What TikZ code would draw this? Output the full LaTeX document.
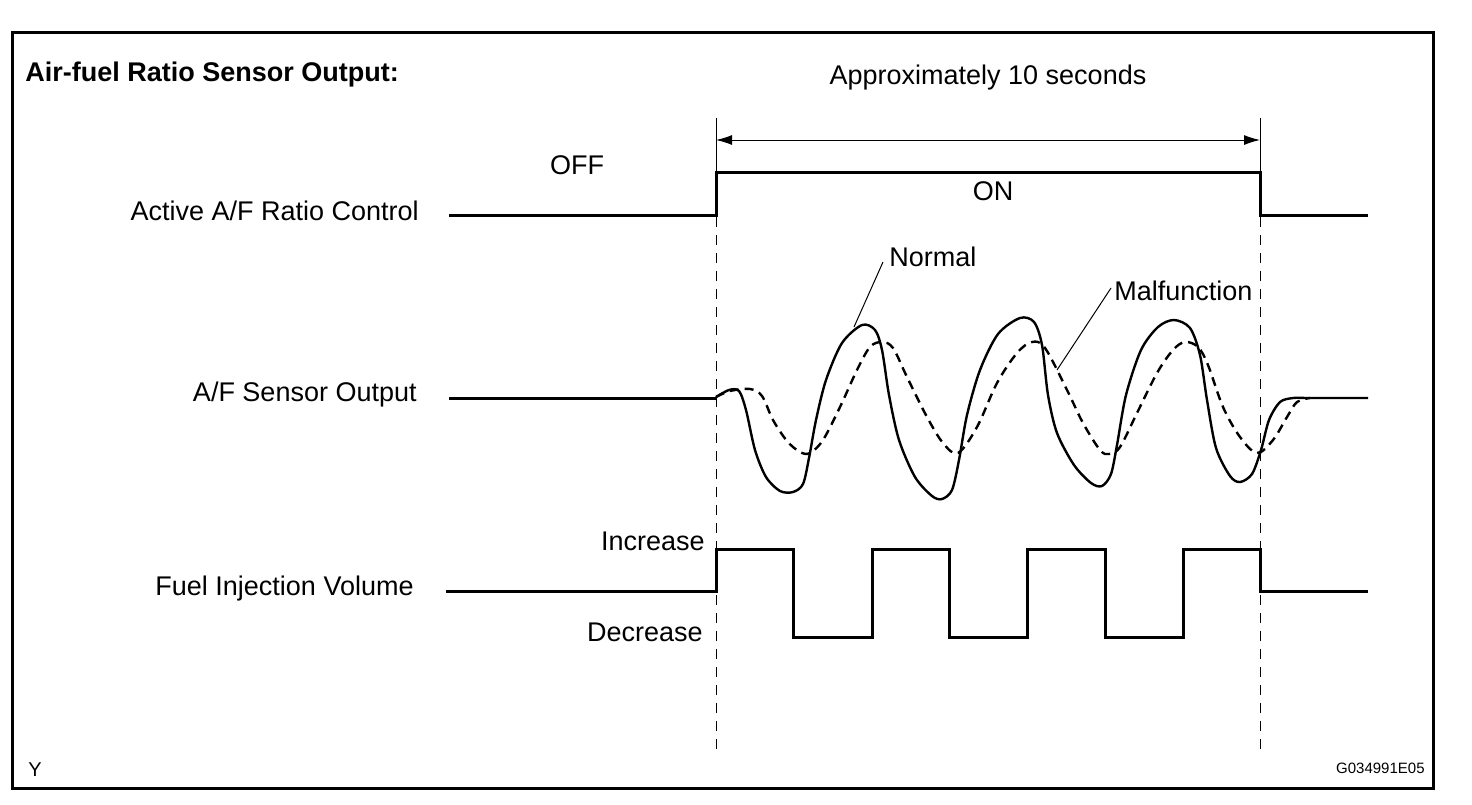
\documentclass[tikz,border=0pt]{standalone}
\usepackage{fontspec}
\setmainfont{Liberation Sans}
\usetikzlibrary{arrows.meta}

\tikzstyle{frame} = [draw, line width=1.5pt]
\tikzstyle{lbl} = [inner sep=0pt, font=\fontsize{13.5}{16}\selectfont]
\tikzstyle{signal} = [line width=1.5pt]
\tikzstyle{curve} = [line width=1.2pt, line join=round]
\tikzstyle{guide} = [line width=0.5pt, dash pattern=on 5pt off 4pt]
\tikzstyle{dim} = [line width=0.5pt]

\begin{document}
\begin{tikzpicture}[x=0.5pt,y=-0.5pt,>={Latex[length=8pt,width=5pt]}]
\useasboundingbox (0,0) rectangle (1472,804);
\draw[frame] (12,32) rectangle (1433,788);

% texts
\node[lbl,anchor=base west,font=\fontsize{13.5}{16}\selectfont\bfseries] (title) at (25,81) {Air-fuel Ratio Sensor Output:};
\node[lbl,anchor=base] (approx) at (988,84) {Approximately 10 seconds};
\node[lbl,anchor=base] (off) at (577,174) {OFF};
\node[lbl,anchor=base] (on) at (993,200) {ON};
\node[lbl,anchor=base east] (active) at (419,220) {Active A/F Ratio Control};
\node[lbl,anchor=base east] (sensor) at (417,401) {A/F Sensor Output};
\node[lbl,anchor=base east] (fuel) at (414,595) {Fuel Injection Volume};
\node[lbl,anchor=base east] (inc) at (705,550) {Increase};
\node[lbl,anchor=base east] (dec) at (703,641) {Decrease};
\node[lbl,anchor=base west] (normal) at (889,266) {Normal};
\node[lbl,anchor=base west] (malf) at (1114,300) {Malfunction};
\node[lbl,anchor=base west,font=\fontsize{10}{12}\selectfont] (ycode) at (28,776) {Y};
\node[lbl,anchor=base east,font=\fontsize{7.5}{9}\selectfont] (gcode) at (1425,773) {G034991E05};

% time span
\coordinate (t0) at (716,140);
\coordinate (t1) at (1260,140);
\draw[dim] (716,118) -- (716,163);
\draw[dim] (1260,118) -- (1260,163);
\draw[dim,<->] (t0) -- (t1);
\draw[guide] (716,163) -- (716,750);
\draw[guide] (1260,163) -- (1260,750);

% active A/F ratio control
\draw[signal] (449,215) -- (716,215) -- (716,172) -- (1260,172) -- (1260,215) -- (1368,215);

% A/F sensor output
\draw[signal] (449,398) -- (716,398);
\draw[curve] plot[smooth,tension=0.5] coordinates {(716,397) (729,390) (739,391) (746,410)
  (755,450) (766,477) (780,491) (793,492) (803,484) (809,458) (816,420) (826,380) (842,343)
  (862,325) (875,330) (882,350) (889,395) (899,440) (915,477) (932,496) (942,499) (952,490)
  (959,460) (967,415) (980,370) (998,334) (1020,318) (1034,322) (1042,345) (1048,395)
  (1057,433) (1074,465) (1091,483) (1102,486) (1111,474) (1117,445) (1126,395) (1141,350)
  (1158,327) (1174,320) (1190,328) (1200,355) (1207,400) (1216,448) (1230,476) (1240,482)
  (1252,474) (1261,450) (1269,420) (1280,402) (1293,398) (1305,398)} -- (1368,398);
\draw[curve,dash pattern=on 4.5pt off 3pt] plot[smooth,tension=0.55] coordinates {(716,397)
  (730,391) (750,389) (762,396) (773,420) (787,441) (800,452) (810,453) (823,440) (840,407)
  (857,370) (870,347) (882,342) (893,348) (907,377) (927,417) (943,443) (958,453) (977,427)
  (997,383) (1017,353) (1032,342) (1045,348) (1067,390) (1083,423) (1100,450) (1109,454)
  (1120,447) (1137,413) (1157,373) (1173,350) (1185,342) (1198,347) (1208,365) (1223,407)
  (1240,437) (1257,453) (1273,440) (1287,417) (1297,402) (1310,398)};
\coordinate (npt) at (854,327);
\coordinate (ntip) at (883,262);
\draw[dim] (npt) -- (ntip);
\coordinate (mpt) at (1057,370);
\coordinate (mtip) at (1111,288);
\draw[dim] (mpt) -- (mtip);

% fuel injection volume
\draw[signal] (446,591) -- (716,591) -- (716,549) -- (793,549) -- (793,637) -- (872,637)
  -- (872,549) -- (949,549) -- (949,637) -- (1027,637) -- (1027,549) -- (1105,549)
  -- (1105,637) -- (1183,637) -- (1183,549) -- (1260,549) -- (1260,591) -- (1368,591);

\end{tikzpicture}
\end{document}
